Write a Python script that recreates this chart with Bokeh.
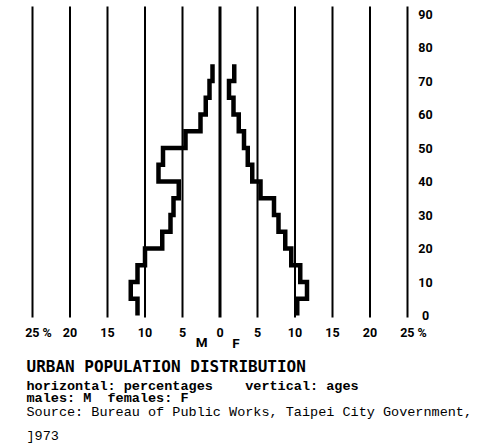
from bokeh.plotting import figure
from bokeh.models import Range1d
from bokeh.core.properties import value
from bokeh.embed import file_html
from bokeh.resources import INLINE

# ---- data ----
age_lower = [0, 5, 10, 15, 20, 25, 30, 35, 40, 45, 50, 55, 60, 65, 70]
group_width = 5
male_pct = [11.0, 11.9, 11.0, 10.0, 7.7, 6.6, 6.2, 5.5, 8.2, 7.6, 4.6, 2.6, 1.9, 1.4, 1.0]
female_pct = [10.3, 11.6, 10.7, 9.5, 8.7, 7.8, 7.2, 5.4, 4.3, 3.7, 3.2, 2.5, 1.8, 1.2, 1.9]

pct_ticks = [-25, -20, -15, -10, -5, 0, 5, 10, 15, 20, 25]
pct_labels = ["25 %", "20", "15", "10", "5", "0", "5", "10", "15", "20", "25 %"]
age_ticks = [0, 10, 20, 30, 40, 50, 60, 70, 80, 90]
age_labels = ["0", "10", "20", "30", "40", "50", "60", "70", "80", "90"]

title = "URBAN POPULATION DISTRIBUTION"
# (text, column in monospace characters)
note_line1 = [("horizontal: percentages", 0), ("vertical: ages", 27)]
note_line2 = [("males: M", 0), ("females: F", 10)]
source_lines = [
    "Source: Bureau of Public Works, Taipei City Government,",
    "]973",
]

# ---- figure: frame covers the whole canvas ----
W, H = 471, 448
PX_PER_PCT = 7.5
PX_PER_YEAR = 3.35
p = figure(width=W, height=H, output_backend="svg", toolbar_location=None,
           x_range=Range1d(-219.5 / PX_PER_PCT, (W - 219.5) / PX_PER_PCT),
           y_range=Range1d((315 - H) / PX_PER_YEAR, 315 / PX_PER_YEAR),
           x_axis_type=None, y_axis_type=None, min_border=0,
           outline_line_color=None, background_fill_color="white",
           border_fill_color="white")
p.grid.visible = False


def ypx(py):  # vertical page pixel -> age units (for text placement)
    return (315 - py) / PX_PER_YEAR


# vertical lines of the percentage scale
line_w = [3 if t == 0 else 2 for t in pct_ticks]
p.segment(x0=pct_ticks, y0=[ypx(317)] * len(pct_ticks), x1=pct_ticks,
          y1=[ypx(6)] * len(pct_ticks), line_color="black", line_width=line_w)


def step_path(vals, sign):
    xs, ys = [], []
    for lo, v in zip(age_lower, vals):
        xs += [sign * v, sign * v]
        ys += [lo, lo + group_width]
    return xs, ys


mx, my = step_path(male_pct, -1)
fx, fy = step_path(female_pct, 1)
p.line(mx, my, line_color="black", line_width=4.5, line_join="miter")
p.line(fx, fy, line_color="black", line_width=4.5, line_join="miter")

tick_font = value("Roboto")
offs = [6 if "%" in s else 0 for s in pct_labels]
p.text(x=pct_ticks, y=[ypx(332)] * len(pct_ticks), text=pct_labels,
       text_align="center", text_baseline="middle", text_font=tick_font,
       text_font_style="bold", text_font_size="12.5px", text_color="black",
       x_offset=offs)

p.text(x=[27.4] * len(age_ticks), y=age_ticks, text=age_labels,
       text_align="center", text_baseline="middle", text_font=tick_font,
       text_font_style="bold", text_font_size="12.5px", text_color="black")

p.text(x=[-2.44, 2.13], y=[ypx(341), ypx(342.5)], text=["M", "F"],
       text_align="center", text_baseline="middle", text_font=tick_font,
       text_font_style="bold", text_font_size="13.5px", text_color="black")

left_x = (26 - 219.5) / PX_PER_PCT
char_w = 8.1 / PX_PER_PCT
p.text(x=[left_x], y=[ypx(366)], text=[title], text_align="left",
       text_baseline="alphabetic", text_font=value("DejaVu Sans Mono"),
       text_font_style="bold", text_font_size="16px", text_color="black")

for line, py in ((note_line1, 385.5), (note_line2, 398)):
    p.text(x=[left_x + col * char_w for _, col in line], y=[ypx(py)] * len(line),
           text=[t for t, _ in line], text_align="left",
           text_baseline="alphabetic", text_font=value("Liberation Mono"),
           text_font_style="bold", text_font_size="13.5px", text_color="black")

p.text(x=[left_x] * 2, y=[ypx(412), ypx(436)], text=source_lines,
       text_align="left", text_baseline="alphabetic",
       text_font=value("Liberation Mono"), text_font_style="normal",
       text_font_size="13.5px", text_color="black")

open("out.html", "w").write(file_html(p, INLINE))
